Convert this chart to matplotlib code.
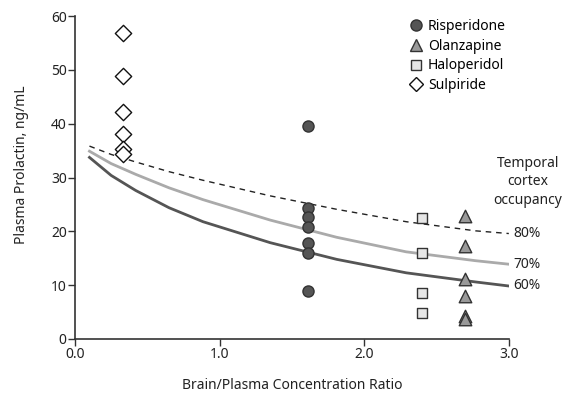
import matplotlib
matplotlib.use("Agg")
import matplotlib.pyplot as plt
from matplotlib.lines import Line2D

plt.rcParams['font.family'] = ['Noto Sans', 'DejaVu Sans']

# ---- data ----
ris_x = [1.61] * 7
ris_y = [39.6, 24.3, 22.7, 20.9, 17.9, 15.9, 9.0]
ola_x = [2.70] * 6
ola_y = [22.9, 17.3, 11.1, 8.0, 4.3, 3.8]
hal_x = [2.40] * 4
hal_y = [22.5, 15.9, 8.5, 4.8]
sul_x = [0.33] * 6
sul_y = [56.8, 48.9, 42.1, 38.1, 35.3, 34.4]

curve_x = [0.1, 0.25, 0.42, 0.65, 0.885, 1.35, 1.81, 2.29, 2.77, 3.0]
occ60 = [33.75, 30.4, 27.6, 24.4, 21.8, 17.9, 14.8, 12.3, 10.6, 9.85]
occ70 = [34.9, 32.6, 30.6, 28.1, 25.9, 22.1, 18.9, 16.2, 14.55, 13.9]
occ80 = [35.85, 34.3, 32.9, 31.1, 29.5, 26.6, 24.1, 21.8, 20.1, 19.6]

curve_labels = ['60%', '70%', '80%']
xticks = [0.0, 1.0, 2.0, 3.0]
xticklabels = ['0.0', '1.0', '2.0', '3.0']
yticks = [0, 10, 20, 30, 40, 50, 60]

# ---- figure ----
fig = plt.figure(figsize=(5.66, 3.94), dpi=100)
ax = fig.add_axes([0.1325, 0.1396, 0.7665, 0.8194])

axis_col = '#333333'
ax.plot(curve_x, occ60, color='#555555', lw=2.0, zorder=2)
ax.plot(curve_x, occ70, color='#aaaaaa', lw=2.0, zorder=2)
ax.plot(curve_x, occ80, color='#222222', lw=1.0, ls=(0, (4, 3.5)), zorder=2)

ax.scatter(ris_x, ris_y, s=8.0**2, marker='o', facecolor='#555555',
           edgecolor='#333333', linewidth=1.0, zorder=3)
ax.scatter(ola_x, ola_y, s=9.0**2, marker='^', facecolor='#999999',
           edgecolor='#333333', linewidth=1.0, zorder=3)
ax.scatter(hal_x, hal_y, s=7.8**2, marker='s', facecolor='#e6e6e6',
           edgecolor='#333333', linewidth=1.0, zorder=3)
ax.scatter(sul_x, sul_y, s=8.3**2, marker='D', facecolor='white',
           edgecolor='#111111', linewidth=1.0, zorder=3)

ax.set_xlim(0, 3.0)
ax.set_ylim(0, 60)
ax.set_xticks(xticks)
ax.set_xticklabels(xticklabels)
ax.set_yticks(yticks)

for s in ['top', 'right']:
    ax.spines[s].set_visible(False)
for s in ['left', 'bottom']:
    ax.spines[s].set_color(axis_col)
    ax.spines[s].set_linewidth(1.2)
ax.tick_params(direction='out', length=5, width=1.0, color=axis_col,
               labelsize=10, labelcolor='#222222', pad=1)

ax.set_xlabel('Brain/Plasma Concentration Ratio', fontsize=10, color='#222222', labelpad=11)
ax.set_ylabel('Plasma Prolactin, ng/mL', fontsize=10, color='#222222')
ax.yaxis.set_label_coords(-0.105, 0.54)

# curve labels at the right
for lab, yv in zip(curve_labels, [occ60[-1], occ70[-1], occ80[-1]]):
    ax.text(3.03, yv, lab, fontsize=10, color='#222222', ha='left', va='center', clip_on=False)
ax.text(3.13, 29.2, 'Temporal\ncortex\noccupancy', fontsize=10, color='#222222',
        ha='center', va='center', linespacing=1.3, clip_on=False)

handles = [
    Line2D([], [], ls='', marker='o', ms=8, mfc='#555555', mec='#333333', mew=1.0),
    Line2D([], [], ls='', marker='^', ms=8.5, mfc='#999999', mec='#333333', mew=1.0),
    Line2D([], [], ls='', marker='s', ms=7.5, mfc='#e6e6e6', mec='#333333', mew=1.0),
    Line2D([], [], ls='', marker='D', ms=7, mfc='white', mec='#111111', mew=1.0),
]
leg = ax.legend(handles, ['Risperidone', 'Olanzapine', 'Haloperidol', 'Sulpiride'],
                loc='upper left', bbox_to_anchor=(0.745, 1.012), frameon=False,
                fontsize=10, handletextpad=0.15, labelspacing=0.33, borderpad=0,
                handlelength=1.5)

fig.savefig('out.png', dpi=100)
